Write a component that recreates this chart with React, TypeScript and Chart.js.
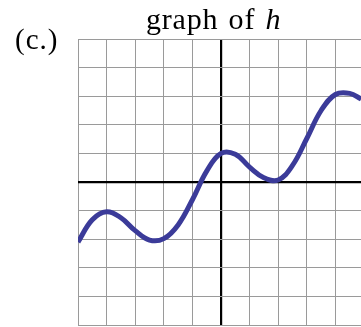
import React, { useEffect, useRef } from "react";
import { Chart, registerables } from "chart.js";

Chart.register(...registerables);

const xValues = [-5, -4.5, -4, -3.5, -3, -2.5, -2, -1.5, -1, -0.5, 0, 0.5, 1, 1.5, 2, 2.5, 3, 3.5, 4, 4.5, 4.9];
const hValues = [-2.1, -1.32, -1.04, -1.25, -1.7, -2.03, -1.98, -1.5, -0.62, 0.38, 1.0, 0.97, 0.52, 0.15, 0.07, 0.58, 1.52, 2.5, 3.06, 3.1, 2.9];
const xRange = [-5, 5];
const yRange = [-5, 5];
const titleText = "graph of ";
const titleVar = "h";
const panelLabel = "(c.)";

export default function App() {
  const ref = useRef<HTMLCanvasElement | null>(null);

  useEffect(() => {
    document.body.style.margin = "0";
    const canvas = ref.current;
    if (!canvas) return;
    const chart = new Chart(canvas, {
      type: "line",
      data: {
        datasets: [
          {
            data: xValues.map((x, i) => ({ x, y: hValues[i] })),
            borderColor: "#3b3b99",
            borderWidth: 5,
            pointRadius: 0,
            tension: 0.4,
            fill: false,
            borderCapStyle: "butt",
          },
        ],
      },
      options: {
        animation: false,
        responsive: false,
        maintainAspectRatio: false,
        layout: { padding: { left: 78, top: 39, right: 6, bottom: 2 } },
        plugins: { legend: { display: false }, tooltip: { enabled: false }, title: { display: false } },
        scales: {
          x: {
            type: "linear",
            min: xRange[0],
            max: xRange[1],
            ticks: { display: false, stepSize: 1 },
            border: { display: false },
            grid: {
              drawTicks: false,
              color: (c: any) => (c.tick && c.tick.value === 0 ? "#000000" : "#9a9a9a"),
              lineWidth: (c: any) => (c.tick && c.tick.value === 0 ? 2.2 : 1),
              z: -1,
            },
          },
          y: {
            type: "linear",
            min: yRange[0],
            max: yRange[1],
            ticks: { display: false, stepSize: 1 },
            border: { display: false },
            grid: {
              drawTicks: false,
              color: (c: any) => (c.tick && c.tick.value === 0 ? "#000000" : "#9a9a9a"),
              lineWidth: (c: any) => (c.tick && c.tick.value === 0 ? 2.2 : 1),
              z: -1,
            },
          },
        },
      },
    });
    return () => chart.destroy();
  }, []);

  const font = '"Liberation Serif", "DejaVu Serif", serif';
  return (
    <div style={{ position: "fixed", left: 0, top: 0, width: 361, height: 327, overflow: "hidden", background: "#fff" }}>
      <canvas ref={ref} width={370} height={327} style={{ position: "absolute", left: 0, top: 0, width: 370, height: 327 }} />
      <div style={{ position: "absolute", left: 15, top: 25, fontFamily: font, fontSize: 29, lineHeight: "28px", whiteSpace: "nowrap", color: "#000", letterSpacing: 1 }}>
        {panelLabel}
      </div>
      <div style={{ position: "absolute", left: 146, top: 5, fontFamily: font, fontSize: 30, lineHeight: "28px", whiteSpace: "nowrap", color: "#000", letterSpacing: 0.8, wordSpacing: 2 }}>
        {titleText}
        <i>{titleVar}</i>
      </div>
    </div>
  );
}
